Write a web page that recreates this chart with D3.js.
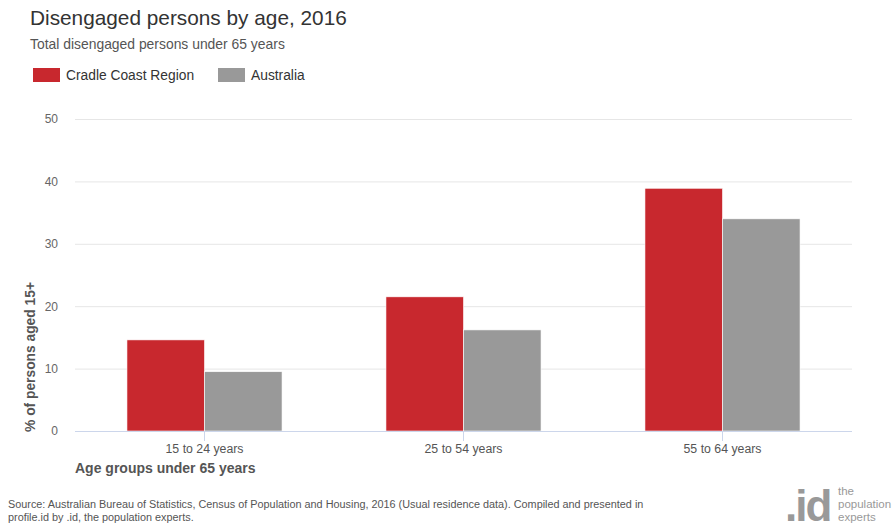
<!DOCTYPE html>
<html><head><meta charset="utf-8">
<script src="https://cdn.jsdelivr.net/npm/d3@7"></script>
<style>body{margin:0;background:#fff;} svg{display:block;font-family:"Liberation Sans",Arial,sans-serif;}</style>
</head><body>
<svg id="c" width="895" height="524"></svg>
<script>
const categories = ["15 to 24 years", "25 to 54 years", "55 to 64 years"];
const seriesNames = ["Cradle Coast Region", "Australia"];
const cradle = [14.6, 21.5, 38.9];
const australia = [9.5, 16.2, 34.0];
const yTicks = [0, 10, 20, 30, 40, 50];
const colors = ["#c8282e", "#999999"];

(function(){
const svg = d3.select("#c");
const pL = 75, pR = 852, pT = 119, pB = 431;
const x0 = d3.scaleBand().domain(categories).range([pL, pR]).paddingInner(0).paddingOuter(0);
const x1 = d3.scaleBand().domain(seriesNames).range([0, x0.bandwidth()]).paddingInner(0).paddingOuter(0.67);
const y = d3.scaleLinear().domain([0, 50]).range([pB, pT]);

svg.append("text").attr("x", 30).attr("y", 25).attr("font-size", 20.8).attr("fill", "#333").text("Disengaged persons by age, 2016");
svg.append("text").attr("x", 30).attr("y", 49).attr("font-size", 13.9).attr("fill", "#555").text("Total disengaged persons under 65 years");

const lg = svg.append("g");
const legX = [33, 218];
seriesNames.forEach((s, i) => {
  lg.append("rect").attr("x", legX[i]).attr("y", 68).attr("width", 27).attr("height", 14).attr("fill", colors[i]);
  lg.append("text").attr("x", legX[i] + 33).attr("y", 80).attr("font-size", 13.8).attr("fill", "#333").text(s);
});

const yAxis = d3.axisLeft(y).tickValues(yTicks).tickSize(-(pR - pL)).tickPadding(17);
const ga = svg.append("g").attr("transform", `translate(${pL},0)`).call(yAxis);
ga.select(".domain").remove();
ga.selectAll(".tick line").attr("stroke", "#e6e6e6");
ga.selectAll(".tick text").attr("fill", "#666").attr("font-size", 12).attr("font-family", "Liberation Sans, Arial, sans-serif");

const groups = svg.append("g").selectAll("g").data(categories).join("g").attr("transform", d => `translate(${x0(d)},0)`);
groups.selectAll("rect").data((d, i) => [{s: seriesNames[0], v: cradle[i], c: 0}, {s: seriesNames[1], v: australia[i], c: 1}])
  .join("rect")
  .attr("x", d => x1(d.s)).attr("width", x1.bandwidth())
  .attr("y", d => y(d.v)).attr("height", d => y(0) - y(d.v))
  .attr("fill", d => colors[d.c]).attr("stroke", "#fff").attr("stroke-width", 0.6);

const xAxis = d3.axisBottom(x0).tickSize(10).tickPadding(3);
const gx = svg.append("g").attr("transform", `translate(0,${pB})`).call(xAxis);
gx.select(".domain").attr("stroke", "#ccd6eb").attr("d", `M${pL},0.5H${pR}`);
gx.selectAll(".tick line").attr("stroke", "#ccd6eb");
gx.selectAll(".tick text").attr("fill", "#555").attr("font-size", 12.3).attr("font-family", "Liberation Sans, Arial, sans-serif");

svg.append("text").attr("x", 75).attr("y", 473).attr("font-size", 14).attr("font-weight", "bold").attr("fill", "#555").text("Age groups under 65 years");
svg.append("text").attr("transform", "translate(35,357) rotate(-90)").attr("text-anchor", "middle").attr("font-size", 13.8).attr("font-weight", "bold").attr("fill", "#555").text("% of persons aged 15+");

const src = svg.append("g").attr("font-size", 10.85).attr("fill", "#555");
src.append("text").attr("x", 8).attr("y", 508).text("Source: Australian Bureau of Statistics, Census of Population and Housing, 2016 (Usual residence data). Compiled and presented in");
src.append("text").attr("x", 8).attr("y", 521).text("profile.id by .id, the population experts.");

svg.append("text").attr("x", 785).attr("y", 521).attr("font-size", 44).attr("font-weight", "bold").attr("fill", "#999").attr("letter-spacing", -2).text(".id");
const lt = svg.append("g").attr("font-size", 11.5).attr("fill", "#999");
["the", "population", "experts"].forEach((t, i) => lt.append("text").attr("x", 838).attr("y", 495 + i * 13).text(t));
})();
</script>
</body></html>
